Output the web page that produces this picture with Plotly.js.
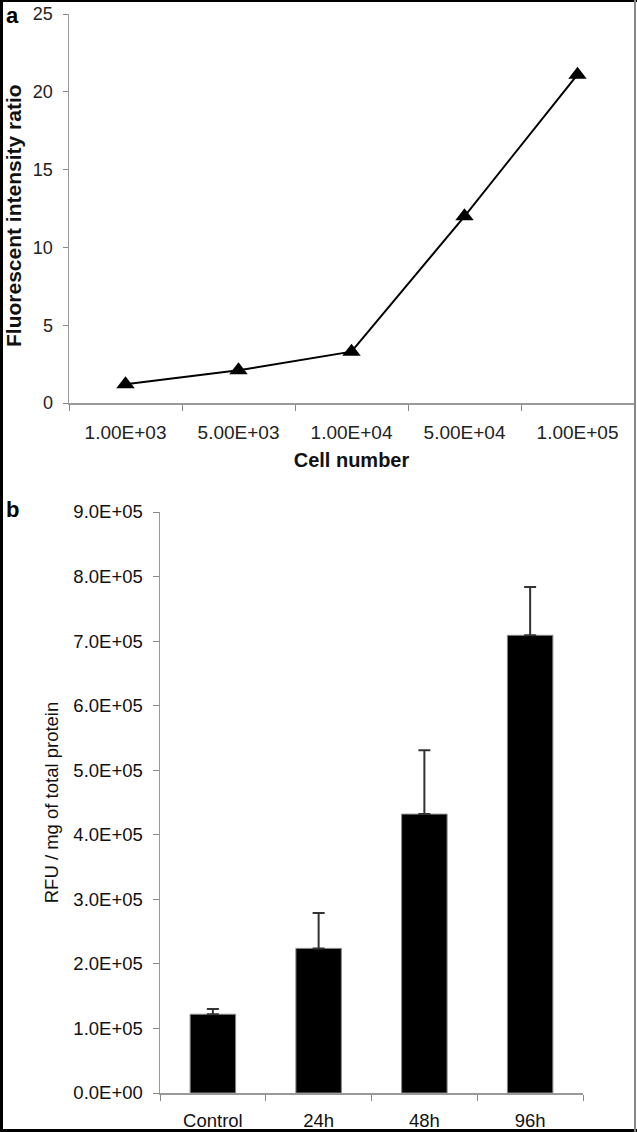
<!DOCTYPE html>
<html>
<head>
<meta charset="utf-8">
<script src="https://cdn.plot.ly/plotly-3.0.1.min.js"></script>
<style>html,body{margin:0;padding:0;background:#fff}#chart{width:637px;height:1132px}</style>
</head>
<body>
<div id="chart"></div>
<script>
// Panel a data
const cellNumbers = ["1.00E+03", "5.00E+03", "1.00E+04", "5.00E+04", "1.00E+05"];
const intensityRatio = [1.2, 2.1, 3.3, 12.0, 21.1];
const yTicksA = [0, 5, 10, 15, 20, 25];

// Panel b data
const groups = ["Control", "24h", "48h", "96h"];
const rfuValues = [122000, 224000, 432000, 709000];
const rfuErrors = [8000, 55000, 99000, 75000];
const yTicksB = [0, 100000, 200000, 300000, 400000, 500000, 600000, 700000, 800000, 900000];
const yTickLabelsB = ["0.0E+00", "1.0E+05", "2.0E+05", "3.0E+05", "4.0E+05", "5.0E+05", "6.0E+05", "7.0E+05", "8.0E+05", "9.0E+05"];

const W = 637, H = 1132;
const fontFam = "Liberation Sans, Arial, sans-serif";

const traces = [
  {
    type: "scatter", mode: "lines+markers",
    x: cellNumbers, y: intensityRatio,
    xaxis: "x", yaxis: "y",
    line: {color: "#000", width: 2},
    marker: {symbol: "triangle-up", size: 16, color: "#000"},
    showlegend: false, hoverinfo: "none"
  },
  {
    type: "bar",
    x: groups, y: rfuValues,
    xaxis: "x2", yaxis: "y2",
    marker: {color: "#000", line: {color: "#888", width: 1}},
    error_y: {type: "data", symmetric: false, array: rfuErrors, arrayminus: rfuErrors.map(() => 0),
              color: "#333", thickness: 2, width: 6},
    showlegend: false, hoverinfo: "none"
  }
];

const layout = {
  width: W, height: H,
  margin: {l: 0, r: 0, t: 0, b: 0},
  paper_bgcolor: "#fff", plot_bgcolor: "#fff",
  font: {family: fontFam, color: "#222", size: 18},
  bargap: 0.57,
  xaxis: {
    domain: [69 / W, 634 / W], anchor: "y",
    type: "category", range: [-0.5, 4.5],
    showline: true, linecolor: "#999", linewidth: 1.5,
    ticks: "outside", tickson: "boundaries", ticklen: 6, tickcolor: "#888",
    tickfont: {size: 19, color: "#222"}, ticklabelstandoff: 12,
    showgrid: false, zeroline: false,
    title: {text: "<b>Cell number</b>", font: {size: 20, color: "#111"}, standoff: 10}
  },
  yaxis: {
    domain: [1 - 403 / H, 1 - 14 / H], anchor: "x",
    range: [0, 25], tickvals: yTicksA,
    showline: true, linecolor: "#999", linewidth: 1.5,
    ticks: "outside", ticklen: 5, tickcolor: "#888",
    tickfont: {size: 18, color: "#222"}, ticklabelstandoff: 6,
    showgrid: false, zeroline: false
  },
  xaxis2: {
    domain: [160 / W, 583 / W], anchor: "y2",
    type: "category", range: [-0.5, 3.5],
    showline: true, linecolor: "#999", linewidth: 1.5,
    ticks: "outside", tickson: "boundaries", ticklen: 6, tickcolor: "#888",
    tickfont: {size: 18.5, color: "#111"}, ticklabelstandoff: 10,
    showgrid: false, zeroline: false
  },
  yaxis2: {
    domain: [1 - 1093 / H, 1 - 512 / H], anchor: "x2",
    range: [0, 900000], tickvals: yTicksB, ticktext: yTickLabelsB,
    showline: true, linecolor: "#999", linewidth: 1.5,
    ticks: "outside", ticklen: 6, tickcolor: "#888",
    tickfont: {size: 18.5, color: "#111"}, ticklabelstandoff: 6,
    showgrid: false, zeroline: false,
    title: {text: "RFU / mg of total protein", font: {size: 18.5, color: "#111"}, standoff: 10}
  },
  annotations: [
    {text: "<b>a</b>", x: 4 / W, y: 1 - 16 / H, xref: "paper", yref: "paper",
     xanchor: "left", yanchor: "middle", showarrow: false, font: {size: 22, color: "#000"}},
    {text: "<b>b</b>", x: 4 / W, y: 1 - 509 / H, xref: "paper", yref: "paper",
     xanchor: "left", yanchor: "middle", showarrow: false, font: {size: 22, color: "#000"}},
    {text: "<b>Fluorescent intensity ratio</b>", textangle: -90, x: 13 / W, y: 1 - 216 / H,
     xref: "paper", yref: "paper", xanchor: "center", yanchor: "middle", showarrow: false,
     font: {size: 21, color: "#111"}}
  ],
  shapes: [
    {type: "line", xref: "paper", yref: "paper", x0: 1.5 / W, x1: 1.5 / W, y0: 0, y1: 1, line: {color: "#000", width: 3}},
    {type: "line", xref: "paper", yref: "paper", x0: 0, x1: 1, y0: 1 - 1 / H, y1: 1 - 1 / H, line: {color: "#000", width: 2}},
    {type: "line", xref: "paper", yref: "paper", x0: 0, x1: 1, y0: 1.5 / H, y1: 1.5 / H, line: {color: "#000", width: 3}},
    {type: "line", xref: "paper", yref: "paper", x0: 635 / W, x1: 635 / W, y0: 0, y1: 1, line: {color: "#888", width: 2}}
  ]
};

Plotly.newPlot("chart", traces, layout, {staticPlot: true, displayModeBar: false});
</script>
</body>
</html>
